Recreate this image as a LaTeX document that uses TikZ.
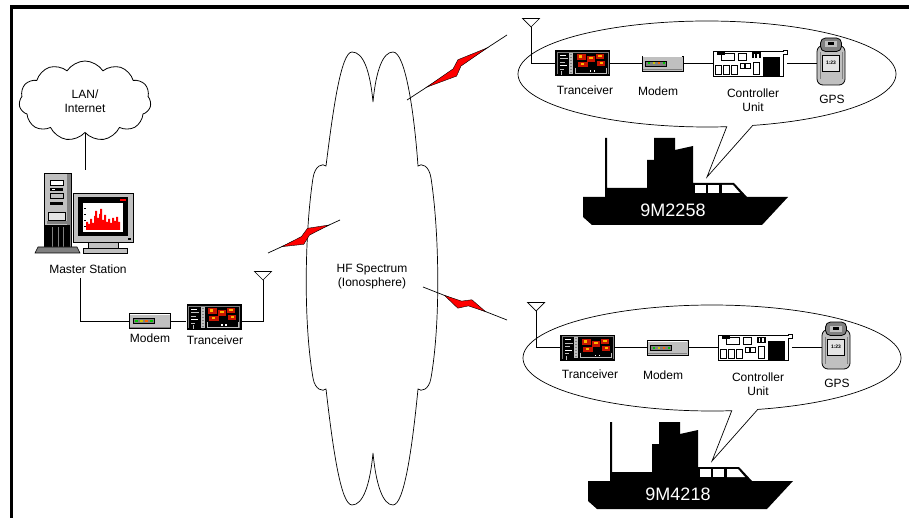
\documentclass[tikz,border=0pt]{standalone}
\usepackage{fontspec}
\setmainfont{Liberation Sans}
\usetikzlibrary{calc,shapes.symbols}

\definecolor{panelgray}{HTML}{C0C0C0}
\definecolor{shadegray}{HTML}{808080}
\definecolor{lightpanel}{HTML}{E4E4E4}
\definecolor{boltred}{HTML}{FF0000}
\definecolor{ledgreen}{HTML}{00C800}
\definecolor{ledyellow}{HTML}{C8C800}
\definecolor{ledorange}{HTML}{FF6400}
\definecolor{dispred}{HTML}{C81400}
\definecolor{dispyellow}{HTML}{FFB400}

\tikzset{
  devlabel/.style={font=\fontsize{12}{14}\selectfont, inner sep=0pt, align=center},
  wire/.style={line width=0.8pt},
  thinline/.style={line width=0.7pt},
  devbox/.style 2 args={inner sep=0pt, minimum width=#1, minimum height=#2},
  antenna/.pic={
    \draw[thinline, fill=white] (-8.5,-8.5) -- (8.5,-8.5) -- (0,0) -- cycle;
  },
  modem/.pic={
    \filldraw[fill=panelgray, draw=black, line width=0.7pt] (-20.5,-7.5) rectangle (20.5,7.5);
    \draw[white, line width=0.8pt] (-19.8,-6.6) -- (19.8,-6.6);
    \draw[shadegray, line width=0.8pt] (-19.8,6.2) -- (19.8,6.2);
    \filldraw[fill=shadegray, draw=black, line width=0.4pt] (-17,-2.5) rectangle (4,2.5);
    \fill[ledgreen]  (-15,-1) rectangle (-12.5,1);
    \fill[ledyellow] (-10,-1) rectangle (-7.5,1);
    \fill[ledorange] (-5,-1) rectangle (-2.5,1);
    \fill[ledgreen]  (0,-1) rectangle (2.5,1);
  },
  transceiver/.pic={
    \fill[black] (-27.5,-13) rectangle (27.5,13);
    \draw[shadegray, line width=0.5pt] (-25.5,11) -- (-25.5,-11) -- (25.5,-11) -- (25.5,11);
    % key rows on the left
    \fill[white] (-23,-8.5) rectangle (-17,-7.5);
    \fill[panelgray] (-23,-5) rectangle (-15,-4);
    \fill[panelgray] (-23,-1.5) rectangle (-18,-0.5);
    \fill[white] (-23,2) rectangle (-16,3);
    \fill[panelgray] (-23,5.5) rectangle (-19,6.5);
    \draw[panelgray, line width=0.6pt] (-21,8) -- (-21,12);
    % column of buttons
    \foreach \yy in {-10,-7,-4,-1,2,5,8}
      \filldraw[fill=shadegray, draw=panelgray, line width=0.3pt] (-13,\yy) rectangle (-10,\yy+2);
    % display
    \fill[dispred] (-6,-9) rectangle (3,-3);
    \fill[dispyellow] (-4,-8) rectangle (-1,-5);
    \fill[dispred] (4,-7) rectangle (12,-1);
    \fill[dispyellow] (6,-6) rectangle (10,-4);
    \fill[dispred] (13,-9) rectangle (21,-4);
    \fill[dispyellow] (15,-8) rectangle (19,-6);
    \fill[dispred] (-5,-1) rectangle (5,4);
    \fill[dispyellow] (-2,0) rectangle (1,2);
    \fill[dispred] (14,-2) rectangle (22,3);
    \fill[dispyellow] (17,-1) rectangle (20,1);
    \fill[white] (7,7) rectangle (8.5,8.5);
    \fill[white] (11,7) rectangle (12.5,8.5);
    \draw[panelgray, line width=0.6pt] (-7,5) -- (-7,10) -- (24,10) -- (24,5);
  },
  controller/.pic={
    \filldraw[fill=white, draw=black, line width=0.8pt]
      (-37,-12.5) -- (33,-12.5) -- (33,-13.5) -- (37,-13.5) -- (37,-9.5) -- (33.5,-9.5)
      -- (33.5,13) -- (-37,13) -- cycle;
    \fill[black] (-33.5,-12.5) rectangle (-25.5,-8.5);
    \draw[line width=0.7pt] (-28.5,-10) rectangle (-15.5,-3.5);
    \draw[line width=0.7pt] (-12,-10) rectangle (-4,-3.5);
    \fill[black] (1.5,-11) rectangle (11,-5);
    \fill[white] (3.5,-9.5) rectangle (5,-5.5);
    \fill[white] (7,-9.5) rectangle (8.5,-5.5);
    \fill[black] (13,-6.5) rectangle (29.5,13);
    \foreach \xx in {-35,-27,-19}
      \draw[line width=0.7pt] (\xx,1.5) rectangle (\xx+6,10.5);
    \draw[line width=0.6pt] (-10,-0.5) rectangle (-5.5,4.5);
    \draw[line width=0.6pt] (-4.5,-0.5) rectangle (0,4.5);
    \draw[line width=0.7pt] (3,-1.5) rectangle (9.5,10.5);
  },
  gps/.pic={
    \filldraw[fill=panelgray, draw=black, line width=0.8pt, rounded corners=6pt] (-14,-16) rectangle (14,23.5);
    \draw[shadegray, line width=0.6pt] (-11,-9) -- (-11,18);
    \draw[shadegray, line width=0.6pt] (11,-9) -- (11,18);
    \filldraw[fill=shadegray, draw=black, line width=0.8pt, rounded corners=5pt] (-10.5,-23.5) rectangle (10.5,-10);
    \fill[panelgray] (-6,-20) rectangle (6,-14);
    \fill[black] (-3,-19) rectangle (3,-16);
    \filldraw[fill=lightpanel, draw=black, line width=0.6pt] (-8.5,-6) rectangle (8.5,10);
    \node[font=\fontsize{5}{5}\selectfont\bfseries, inner sep=0pt] at (0,1.5) {1:23};
  },
}

% radio link: black line with a red zigzag flash around a given fraction
\newcommand\zapbolt[4]{%
  \draw[line width=0.7pt] (#1) -- (#2);
  \coordinate (zm) at ($(#1)!#3!(#2)$);
  \filldraw[fill=boltred, draw=black, line width=0.4pt, line join=miter]
    ($(zm)!-#4!(#2)$)
    -- ($(zm)!-4pt!(#2)!1pt!90:(#2)$)
    -- ($(zm)!5pt!(#2)!6pt!90:(#2)$)
    -- ($(zm)!#4!(#2)$)
    -- ($(zm)!4pt!(#2)!-1pt!90:(#2)$)
    -- ($(zm)!-5pt!(#2)!-7pt!90:(#2)$)
    -- cycle;
}

% one vessel with its on-board equipment in a speech balloon
\newcommand\vesselgroup[3]{%
\begin{scope}[shift={#2}]
  \draw[thinline] plot[domain=84:436, samples=140] ({707+189*cos(\x)},{74+53*sin(\x)})
    -- (707,177) -- cycle;
  \coordinate (ant#1) at (531,27);
  \pic at (ant#1) {antenna};
  \node[devbox={55}{26}] (tx#1) at (582.5,63.5) {};
  \pic at (tx#1) {transceiver};
  \node[devbox={41}{15}] (mdm#1) at (662.5,63.5) {};
  \pic at (mdm#1) {modem};
  \node[devbox={74}{26}] (ctl#1) at (750,63.5) {};
  \pic at (ctl#1) {controller};
  \node[devbox={28}{47}] (gps#1) at (831,61.5) {};
  \pic at (gps#1) {gps};
  \draw[wire] (ant#1) |- (tx#1.west);
  \draw[wire] (tx#1.east) -- (mdm#1.west);
  \draw[wire] (mdm#1.east) -- (ctl#1.west);
  \draw[wire] (ctl#1.east) -- (ctl#1.east -| gps#1.west);
  \node[devlabel] at (585,90) {Tranceiver};
  \node[devlabel] at (658,91) {Modem};
  \node[devlabel] at (753,100) {Controller\\Unit};
  \node[devlabel] at (832,99) {GPS};
  % hull and superstructure
  \fill[black] (583,197) -- (583,217) -- (592,225) -- (762,225) -- (788,197) -- (747,197)
    -- (734,183) -- (693,183) -- (693,146) -- (675,150) -- (675,138) -- (654,138)
    -- (654,160) -- (647,160) -- (647,188) -- (607,188) -- (607,138) -- (605,138)
    -- (605,197) -- cycle;
  \fill[white] (695,185) rectangle (706,193);
  \fill[white] (708,185) rectangle (719,193);
  \fill[white] (722,185) -- (733,185) -- (740,193) -- (722,193) -- cycle;
  \node[font=\fontsize{18}{20}\selectfont, text=white, inner sep=0pt] (hull#1) at (673,210) {#3};
\end{scope}}

\begin{document}
\begin{tikzpicture}[x=1pt, y=-1pt]
\useasboundingbox (0,0) rectangle (909,518);
\fill[white] (0,0) rectangle (909,518);
% frame
\draw[line width=3.5pt] (11.5,518) -- (11.5,7) -- (909,7);

% network cloud
\node[cloud, draw, line width=0.8pt, cloud puffs=11, cloud puff arc=115, aspect=1.7,
      minimum width=132, minimum height=80, inner sep=0pt, devlabel] (lan) at (85,101) {LAN/\\Internet};

% master station computer
\node[devbox={100}{83}] (master) at (84,211.5) {};
\draw[wire] (lan.south) -- (lan.south |- master.north);
% tower
\filldraw[fill=panelgray, draw=black, line width=0.8pt] (44,173) rectangle (71,248);
\fill[shadegray] (67,174) rectangle (70.5,247.5);
\filldraw[fill=white, draw=black, line width=0.6pt] (50,180) rectangle (63,185);
\fill[black] (50,188) rectangle (63,191);
\fill[white] (52,189) rectangle (55,190);
\filldraw[fill=panelgray, draw=black, line width=0.6pt] (50,193) rectangle (63,198);
\fill[black] (50,202) rectangle (63,205);
\filldraw[fill=lightpanel, draw=black, line width=0.6pt] (48,212) rectangle (65,220);
\fill[shadegray] (47,221) rectangle (67,224);
\fill[black] (45,225) rectangle (70,248);
\foreach \xx in {52,58,63} \draw[shadegray, line width=0.6pt] (\xx,227) -- (\xx,247);
\filldraw[fill=shadegray, draw=black, line width=0.6pt] (38,247) -- (77,247) -- (80,253) -- (35,253) -- cycle;
% monitor
\filldraw[fill=panelgray, draw=black, line width=0.8pt] (73,193) rectangle (133,242);
\fill[black] (78,197) rectangle (128,236);
\fill[white] (83,203) rectangle (123,232);
\fill[boltred] (86,230) -- (86,222) -- (88,222) -- (88,224) -- (90,224) -- (90,219) -- (92,219)
  -- (92,223) -- (94,223) -- (94,216) -- (95,216) -- (95,211) -- (97,211) -- (97,218) -- (99,218)
  -- (99,214) -- (100,214) -- (100,209) -- (102,209) -- (102,220) -- (104,220) -- (104,215)
  -- (106,215) -- (106,222) -- (108,222) -- (108,219) -- (110,219) -- (110,223) -- (112,223)
  -- (112,218) -- (114,218) -- (114,221) -- (116,221) -- (116,217) -- (118,217) -- (118,222)
  -- (120,222) -- (120,230) -- cycle;
\foreach \yy in {208,214,220,226} \draw[black, line width=0.5pt] (84,\yy) -- (86,\yy);
\fill[boltred] (120,199) rectangle (126,201);
\fill[black] (128,238) rectangle (131,240);
\filldraw[fill=panelgray, draw=black, line width=0.6pt] (88,242) rectangle (118,248);
\filldraw[fill=panelgray, draw=black, line width=0.6pt] (83,248) rectangle (127,253);
\node[devlabel] (mslabel) at (88,269) {Master Station};

% ground station radio chain
\coordinate (msdrop) at (80,278);
\node[devbox={41}{15}] (mdm0) at (150,321) {};
\pic at (mdm0) {modem};
\node[devbox={55}{26}] (tx0) at (214,317) {};
\pic at (tx0) {transceiver};
\coordinate (ant0) at (263,280);
\pic at (ant0) {antenna};
\draw[wire] (msdrop) |- (mdm0.west);
\draw[wire] (mdm0.east) -- (mdm0.east -| tx0.west);
\draw[wire] (tx0.east |- mdm0.east) -| (ant0);
\node[devlabel] at (150,338) {Modem};
\node[devlabel] at (215,340) {Tranceiver};

% ionosphere
\draw[thinline] (373,102) .. controls (376,70) and (383,52) .. (393,52)
  .. controls (405,52) and (414,110) .. (418,166)
  .. controls (421,163) and (429,165) .. (431,178)
  .. controls (439,230) and (441,320) .. (431,378)
  .. controls (429,390) and (421,392) .. (418,389)
  .. controls (412,450) and (404,505) .. (393,505)
  .. controls (383,505) and (376,485) .. (373,453)
  .. controls (370,485) and (363,505) .. (352,505)
  .. controls (341,505) and (333,450) .. (326,389)
  .. controls (323,392) and (315,390) .. (313,378)
  .. controls (303,320) and (305,230) .. (313,178)
  .. controls (315,165) and (323,163) .. (326,166)
  .. controls (333,110) and (341,52) .. (352,52)
  .. controls (363,52) and (370,70) .. (373,102);
\node[devlabel] (hf) at (372,277) {HF Spectrum\\(Ionosphere)};

% radio links
\coordinate (b1s) at (268,253); \coordinate (b1e) at (340,220);
\coordinate (b2s) at (407,100); \coordinate (b2e) at (507,35);
\coordinate (b3s) at (423,287); \coordinate (b3e) at (507,320);
\zapbolt{b1s}{b1e}{0.52}{26pt}
\zapbolt{b2s}{b2e}{0.5}{36pt}
\zapbolt{b3s}{b3e}{0.5}{22pt}

% vessels
\vesselgroup{a}{(0,0)}{9M2258}
\vesselgroup{b}{(5,284)}{9M4218}
\end{tikzpicture}
\end{document}
